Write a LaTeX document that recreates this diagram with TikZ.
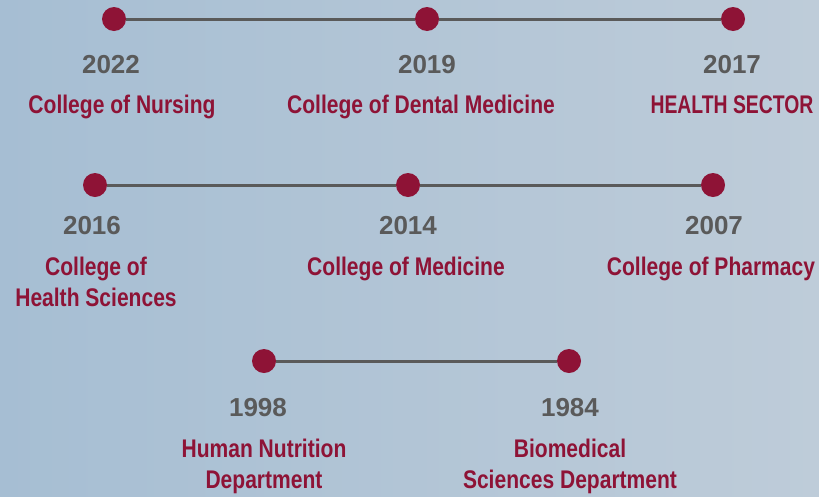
\documentclass[tikz,border=0pt]{standalone}
\usepackage{fontspec}
\setmainfont{Liberation Sans}
\newfontfamily\condfont[FakeStretch=0.825]{Liberation Sans}
\newfontfamily\capsfont[FakeStretch=0.76]{Liberation Sans}
\definecolor{dotred}{HTML}{8E1336}
\definecolor{linegray}{HTML}{5A5A5A}
\definecolor{bgleft}{HTML}{A6BED3}
\definecolor{bgright}{HTML}{BECCD9}
\begin{document}
\begin{tikzpicture}[x=1pt,y=-1pt,
  dot/.style={circle,fill=dotred,inner sep=0pt,minimum size=24pt},
  link/.style={draw=linegray,line width=3pt},
  year/.style={anchor=base,inner sep=0pt,text=linegray,font=\fontsize{26}{30}\selectfont\bfseries},
  lab/.style={anchor=base,inner sep=0pt,text=dotred,align=center,font=\condfont\fontsize{25.5}{31}\selectfont\bfseries}]
\shade[left color=bgleft,right color=bgright] (0,0) rectangle (819,496);
\useasboundingbox (0,0) rectangle (819,496);
% row 1
\node[dot] (d1) at (114,19) {};
\node[dot] (d2) at (427,19) {};
\node[dot] (d3) at (733,19) {};
\draw[link] (d1) -- (d2);
\draw[link] (d2) -- (d3);
\node[year] (y1) at (111,73) {2022};
\node[year] (y2) at (427,73) {2019};
\node[year] (y3) at (732,73) {2017};
\node[lab] (l1) at (122,113) {College of Nursing};
\node[lab] (l2) at (421,113) {College of Dental Medicine};
\node[lab,font=\capsfont\fontsize{25.5}{31}\selectfont\bfseries] (l3) at (732,113) {HEALTH SECTOR};
% row 2
\node[dot] (d4) at (95,185) {};
\node[dot] (d5) at (408,185) {};
\node[dot] (d6) at (713,185) {};
\draw[link] (d4) -- (d5);
\draw[link] (d5) -- (d6);
\node[year] (y4) at (92,234) {2016};
\node[year] (y5) at (408,234) {2014};
\node[year] (y6) at (714,234) {2007};
\node[lab] (l4) at (96,306) {College of\\Health Sciences};
\node[lab] (l5) at (406,275) {College of Medicine};
\node[lab] (l6) at (711,275) {College of Pharmacy};
% row 3
\node[dot] (d7) at (264,361) {};
\node[dot] (d8) at (569,361) {};
\draw[link] (d7) -- (d8);
\node[year] (y7) at (258,416) {1998};
\node[year] (y8) at (570,416) {1984};
\node[lab] (l7) at (264,488) {Human Nutrition\\Department};
\node[lab] (l8) at (570,488) {Biomedical\\Sciences Department};
\end{tikzpicture}
\end{document}
